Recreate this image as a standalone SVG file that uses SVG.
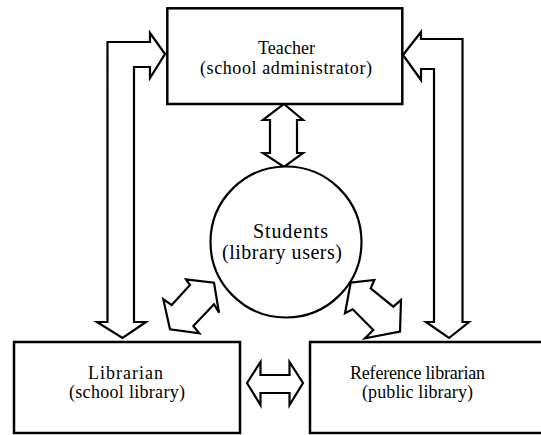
<svg xmlns="http://www.w3.org/2000/svg" width="541" height="435" viewBox="0 0 541 435">
<style>
.box{fill:#fff;stroke:#000;stroke-width:2.5}
.arr{fill:#fff;stroke:#000;stroke-width:2.2;stroke-linejoin:miter}
text{font-size:18px;fill:#000;text-anchor:middle}
.ts{font-size:20px}
</style>
<rect width="541" height="435" fill="#fff"/>
<g id="connectors">
<polygon class="arr" points="165,54 150,33 150,42 107.5,42 107.5,322 97,322 122.5,338 146,322 134,322 134,67 150,67 150,78"/>
<polygon class="arr" points="403,55 421,32 421,39 462.5,39 462.5,322 469,322 449,338 426,322 434,322 434,69 421,69 421,80"/>
<polygon class="arr" points="284,104 303,120 297,120 297,153 303,153 284,167 263,153 270,153 270,120 263,120"/>
<polygon class="arr" points="247,383 260.5,362 260.5,375 289.5,375 289.5,362 303,383 289.5,405 289.5,393 260.5,393 260.5,405"/>
<polygon class="arr" points="214,282.7 219,312.7 214,304.3 193.3,326 199.3,333.3 170,329.3 163.3,299.3 171.7,305 190,285 186,279.3"/>
<polygon class="arr" points="350.7,282.7 374.3,280 370.7,288.3 393.3,306.7 401,300 400,331.7 365,338.3 373.3,330 352.7,309.3 345,313.3"/>
</g>
<g font-family="Liberation Serif, DejaVu Serif, Noto Serif, Times New Roman, serif">
<g id="teacher">
<rect class="box" x="167.3" y="8.3" width="235" height="95.7"/>
<text x="286.5" y="54" textLength="57" lengthAdjust="spacing">Teacher</text>
<text x="286" y="73.5" textLength="172" lengthAdjust="spacing">(school administrator)</text>
</g>
<g id="students">
<circle cx="286" cy="242" r="75.5" fill="#fff" stroke="#000" stroke-width="2.2"/>
<text class="ts" x="290.5" y="238" textLength="75" lengthAdjust="spacing">Students</text>
<text class="ts" x="282" y="259" textLength="120" lengthAdjust="spacing">(library users)</text>
</g>
<g id="librarian">
<rect class="box" x="14" y="342" width="226" height="91"/>
<text x="125.5" y="379" textLength="75" lengthAdjust="spacing">Librarian</text>
<text x="127" y="398" textLength="116" lengthAdjust="spacing">(school library)</text>
</g>
<g id="reference-librarian">
<rect class="box" x="310" y="342" width="240" height="91"/>
<text x="417.5" y="379" textLength="135" lengthAdjust="spacing">Reference librarian</text>
<text x="417.5" y="398" textLength="111" lengthAdjust="spacing">(public library)</text>
</g>
</g>
</svg>
